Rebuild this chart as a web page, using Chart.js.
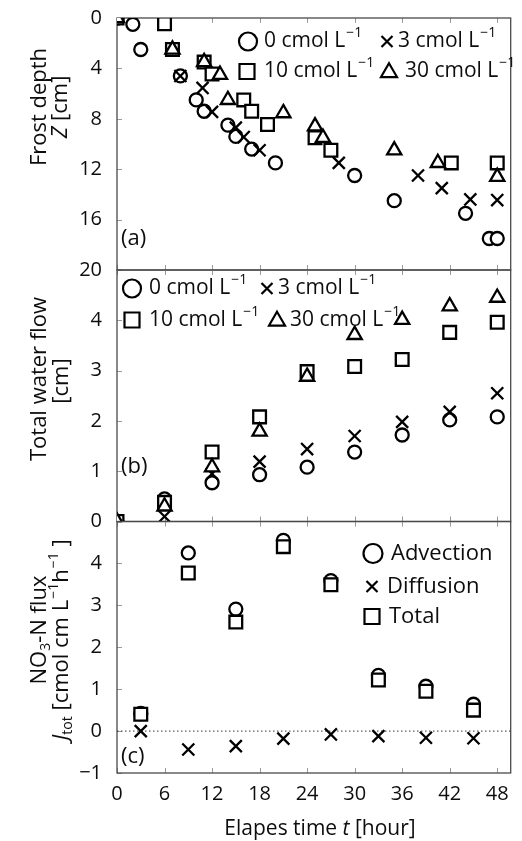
<!DOCTYPE html>
<html><head><meta charset="utf-8">
<script src="https://cdn.jsdelivr.net/npm/chart.js@4.4.0/dist/chart.umd.min.js"></script>
<style>
html,body{margin:0;padding:0;background:#fff;}
#wrap{position:relative;width:522px;height:841px;overflow:hidden;}
#wrap canvas{position:absolute;left:0;top:0;}
</style></head><body>
<div id="wrap">
<canvas id="ca" width="522" height="841"></canvas>
<canvas id="cb" width="522" height="841"></canvas>
<canvas id="cc" width="522" height="841"></canvas>
</div>
<script>
// ---------- data ----------
const xTicks = [0, 6, 12, 18, 24, 30, 36, 42, 48];
const X_MIN = 0, X_MAX = 49.7;

// (a) frost depth [cm]
const aTime0  = [0, 2, 3, 8, 10, 11, 14, 15, 17, 20, 30, 35, 44, 47, 48];
const aDepth0 = [0, 0.5, 2.5, 4.6, 6.5, 7.4, 8.5, 9.4, 10.4, 11.5, 12.5, 14.5, 15.5, 17.5, 17.5];
const aTime3  = [0, 8, 10.8, 12, 15, 16, 18, 28, 38, 41, 44.6, 48];
const aDepth3 = [0, 4.6, 5.55, 7.45, 8.7, 9.45, 10.5, 11.5, 12.5, 13.5, 14.4, 14.45];
const aTime10  = [0, 6, 7, 11, 12, 16, 17, 19, 25, 27, 42.2, 48];
const aDepth10 = [0, 0.45, 2.5, 3.5, 4.45, 6.5, 7.4, 8.45, 9.5, 10.5, 11.5, 11.5];
const aTime30  = [0, 7, 11, 13, 14, 21, 25, 26, 35, 40.5, 48];
const aDepth30 = [0, 2.5, 3.5, 4.5, 6.5, 7.55, 8.6, 9.5, 10.5, 11.5, 12.6];
const depthTicks = [0, 4, 8, 12, 16, 20];

// (b) total water flow [cm]
const bTime  = [0, 6, 12, 18, 24, 30, 36, 42, 48];
const flow0  = [0, 0.45, 0.77, 0.93, 1.08, 1.38, 1.72, 2.02, 2.08];
const flow3  = [0, 0.1, 0.95, 1.19, 1.44, 1.7, 1.98, 2.18, 2.55];
const flow10 = [0, 0.38, 1.38, 2.08, 2.98, 3.08, 3.22, 3.76, 3.96];
const flow30 = [0, 0.3, 1.08, 1.79, 2.88, 3.71, 4.01, 4.28, 4.45];
const flowTicks = [0, 1, 2, 3, 4];

// (c) NO3-N flux
const cTime     = [3, 9, 15, 21, 27, 33, 39, 45];
const advection = [0.42, 4.25, 2.91, 4.55, 3.59, 1.33, 1.07, 0.64];
const diffusion = [0.0, -0.44, -0.36, -0.18, -0.08, -0.12, -0.16, -0.17];
const totalFlux = [0.4, 3.77, 2.6, 4.4, 3.49, 1.22, 0.95, 0.5];
const fluxTicks = [-1, 0, 1, 2, 3, 4];

// ---------- style ----------
const FONT = '"Open Sans", "Noto Sans", sans-serif';
const WEIGHT = '500';
const TXT = '#0d0d0d';
const MK = {
  circle:   {pointStyle: 'circle',   pointRadius: 6.5},
  cross:    {pointStyle: 'crossRot', pointRadius: 8.5},
  rect:     {pointStyle: 'rect',     pointRadius: 9},
  triangle: {pointStyle: 'triangle', pointRadius: 8.2}
};
function ds(label, xs, ys, kind, order) {
  return Object.assign({
    label, order, clip: 0, showLine: false,
    data: xs.map((x, i) => ({x, y: ys[i]})),
    pointBorderColor: '#000', pointBackgroundColor: '#fff',
    borderColor: '#000', backgroundColor: '#fff',
    pointBorderWidth: 2.3
  }, MK[kind], {pointHoverRadius: MK[kind].pointRadius});
}

function xScale(showLabels) {
  return {
    type: 'linear', min: X_MIN, max: X_MAX, position: 'bottom',
    afterBuildTicks: s => { s.ticks = xTicks.map(v => ({value: v})); },
    afterFit: s => { s.height = showLabels ? 68 : 0; s.paddingLeft = 0; s.paddingRight = 0; },
    grid: {display: false, drawTicks: false}, border: {display: false},
    ticks: {display: showLabels, padding: 9, color: TXT, font: {family: FONT, size: 20, weight: WEIGHT},
            maxRotation: 0, autoSkip: false}
  };
}
function yScale(min, max, tickArr, reverse) {
  return {
    type: 'linear', min, max, reverse: !!reverse, position: 'left',
    afterBuildTicks: s => { s.ticks = tickArr.map(v => ({value: v})); },
    afterFit: s => { s.width = 117; s.paddingTop = 0; s.paddingBottom = 0; },
    grid: {display: false, drawTicks: false}, border: {display: false},
    ticks: {padding: 15, color: TXT, font: {family: FONT, size: 20, weight: WEIGHT}, autoSkip: false,
            callback: v => v < 0 ? '\u2212' + Math.abs(v) : String(v)}
  };
}

const framePlugin = {
  id: 'frame',
  beforeDatasetsDraw(chart) {
    const {ctx, chartArea: a, scales} = chart;
    ctx.save();
    ctx.strokeStyle = '#9a9a9a'; ctx.lineWidth = 1;
    ctx.beginPath();
    const x = scales.x, y = scales.y;
    x.ticks.forEach(t => {
      const px = Math.round(x.getPixelForValue(t.value)) + 0.5;
      ctx.moveTo(px, a.bottom); ctx.lineTo(px, a.bottom - 5);
      ctx.moveTo(px, a.top); ctx.lineTo(px, a.top + 5);
    });
    y.ticks.forEach(t => {
      const py = Math.round(y.getPixelForValue(t.value)) + 0.5;
      ctx.moveTo(a.left, py); ctx.lineTo(a.left + 5, py);
    });
    ctx.stroke();
    ctx.strokeStyle = '#4a4a4a'; ctx.lineWidth = 1.3;
    ctx.strokeRect(a.left, a.top, a.right - a.left, a.bottom - a.top);
    ctx.restore();
  }
};

// ---------- rich text helpers ----------
function segFont(s) { return (s.italic ? 'italic ' : '') + WEIGHT + ' ' + (s.size || 21) + 'px ' + FONT; }
function segW(ctx, s) { ctx.font = segFont(s); return ctx.measureText(s.t).width + (s.gap || 0); }
function richWidth(ctx, segs) {
  let w = 0;
  segs.forEach(s => { w += segW(ctx, s); });
  return w;
}
function drawRich(ctx, segs, x, y, align, rot) {
  ctx.save();
  ctx.translate(x, y);
  if (rot) ctx.rotate(rot);
  const w = richWidth(ctx, segs);
  let cx = align === 'center' ? -w / 2 : (align === 'right' ? -w : 0);
  ctx.textBaseline = 'middle'; ctx.textAlign = 'left'; ctx.fillStyle = TXT;
  segs.forEach(s => {
    ctx.font = segFont(s);
    ctx.fillText(s.t, cx + (s.gap || 0), s.dy || 0);
    cx += segW(ctx, s);
  });
  ctx.restore();
}
const SUP = t => ({t, size: 14, dy: -8, gap: 1});
const SUB = t => ({t, size: 14, dy: 6});
const unitL = n => [{t: n + ' cmol L'}, SUP('\u22121')];

function marker(ctx, kind, x, y, s) {
  ctx.save();
  ctx.strokeStyle = '#000'; ctx.fillStyle = '#fff'; ctx.lineWidth = 2.2;
  ctx.beginPath();
  if (kind === 'circle') { ctx.arc(x, y, s / 2, 0, Math.PI * 2); ctx.fill(); }
  else if (kind === 'rect') { ctx.rect(x - s / 2, y - s / 2, s, s); ctx.fill(); }
  else if (kind === 'triangle') {
    const h = s * 0.866;
    ctx.moveTo(x, y - h * 0.6); ctx.lineTo(x + s / 2, y + h * 0.4); ctx.lineTo(x - s / 2, y + h * 0.4); ctx.closePath(); ctx.fill();
  } else if (kind === 'cross') {
    const d = s / 2;
    ctx.moveTo(x - d, y - d); ctx.lineTo(x + d, y + d); ctx.moveTo(x + d, y - d); ctx.lineTo(x - d, y + d);
  }
  ctx.stroke();
  ctx.restore();
}

// ---------- charts ----------
function makeChart(id, datasets, yCfg, pad, showX, draw) {
  return new Chart(document.getElementById(id), {
    type: 'scatter',
    data: {datasets},
    options: {
      responsive: false, animation: false, events: [],
      layout: {padding: pad},
      scales: {x: xScale(showX), y: yCfg},
      plugins: {legend: {display: false}, tooltip: {enabled: false}}
    },
    plugins: [framePlugin, {id: 'txt', afterDraw: c => draw(c.ctx, c)}]
  });
}

// (a)
makeChart('ca', [
  ds('0 cmol L-1', aTime0, aDepth0, 'circle', 4),
  ds('3 cmol L-1', aTime3, aDepth3, 'cross', 3),
  ds('10 cmol L-1', aTime10, aDepth10, 'rect', 2),
  ds('30 cmol L-1', aTime30, aDepth30, 'triangle', 1)
], yScale(0, 20, depthTicks, true), {top: 18, bottom: 571, left: 0, right: 2}, false, (ctx) => {
  drawRich(ctx, [{t: 'Frost depth', size: 22}], 40, 107, 'center', -Math.PI / 2);
  drawRich(ctx, [{t: 'Z', italic: true, size: 22}, {t: ' [cm]', size: 22}], 61, 107, 'center', -Math.PI / 2);
  drawRich(ctx, [{t: '(a)', size: 22}], 121, 239, 'left');
  marker(ctx, 'circle', 248, 41.5, 18);
  drawRich(ctx, unitL('0'), 264, 41.5, 'left');
  marker(ctx, 'cross', 387, 41.5, 11);
  drawRich(ctx, unitL('3'), 398, 41.5, 'left');
  marker(ctx, 'rect', 247, 71.5, 15);
  drawRich(ctx, unitL('10'), 264, 71.5, 'left');
  marker(ctx, 'triangle', 389, 71.5, 16);
  drawRich(ctx, unitL('30'), 405, 71.5, 'left');
});

// (b)
makeChart('cb', [
  ds('0 cmol L-1', bTime, flow0, 'circle', 4),
  ds('3 cmol L-1', bTime, flow3, 'cross', 3),
  ds('10 cmol L-1', bTime, flow10, 'rect', 2),
  ds('30 cmol L-1', bTime, flow30, 'triangle', 1)
], yScale(0, 5, flowTicks, false), {top: 270, bottom: 319.5, left: 0, right: 2}, false, (ctx) => {
  drawRich(ctx, [{t: 'Total water flow', size: 22}], 40, 379, 'center', -Math.PI / 2);
  drawRich(ctx, [{t: '[cm]', size: 22}], 62, 381, 'center', -Math.PI / 2);
  drawRich(ctx, [{t: '(b)', size: 22}], 121, 467, 'left');
  marker(ctx, 'circle', 132, 288.5, 18);
  drawRich(ctx, unitL('0'), 149, 288.5, 'left');
  marker(ctx, 'cross', 267, 288.5, 11);
  drawRich(ctx, unitL('3'), 278, 288.5, 'left');
  marker(ctx, 'rect', 132, 320, 15);
  drawRich(ctx, unitL('10'), 149, 320, 'left');
  marker(ctx, 'triangle', 277, 320, 16);
  drawRich(ctx, unitL('30'), 290, 320, 'left');
});

// (c)
makeChart('cc', [
  {type: 'line', label: 'zero', order: 10, clip: 0,
   data: [{x: X_MIN, y: 0}, {x: X_MAX, y: 0}],
   borderColor: '#333', borderWidth: 1, borderDash: [1.5, 2.5], pointRadius: 0, fill: false},
  ds('Advection', cTime, advection, 'circle', 3),
  ds('Diffusion', cTime, diffusion, 'cross', 2),
  ds('Total', cTime, totalFlux, 'rect', 1)
], yScale(-1, 5, fluxTicks, false), {top: 521.5, bottom: 0, left: 0, right: 2}, true, (ctx) => {
  drawRich(ctx, [{t: 'NO', size: 22}, SUB('3'), {t: '-N flux', size: 22}], 40, 630, 'center', -Math.PI / 2);
  drawRich(ctx, [{t: 'J', italic: true, size: 22}, SUB('tot'), {t: ' [cmol cm L', size: 22}, SUP('\u22121'), {t: 'h', size: 22}, SUP('\u22121'), {t: ' ]', size: 22}],
           62, 640, 'center', -Math.PI / 2);
  drawRich(ctx, [{t: '(c)', size: 22}], 121, 757, 'left');
  drawRich(ctx, [{t: 'Elapes time '}, {t: 't', italic: true}, {t: ' [hour]'}], 320, 829, 'center');
  marker(ctx, 'circle', 373, 553.5, 19);
  drawRich(ctx, [{t: 'Advection', size: 22}], 391, 553.5, 'left');
  marker(ctx, 'cross', 372, 586.5, 11);
  drawRich(ctx, [{t: 'Diffusion', size: 22}], 387, 586.5, 'left');
  marker(ctx, 'rect', 372, 616.5, 15);
  drawRich(ctx, [{t: 'Total', size: 22}], 389, 616.5, 'left');
});
</script>
</body></html>
